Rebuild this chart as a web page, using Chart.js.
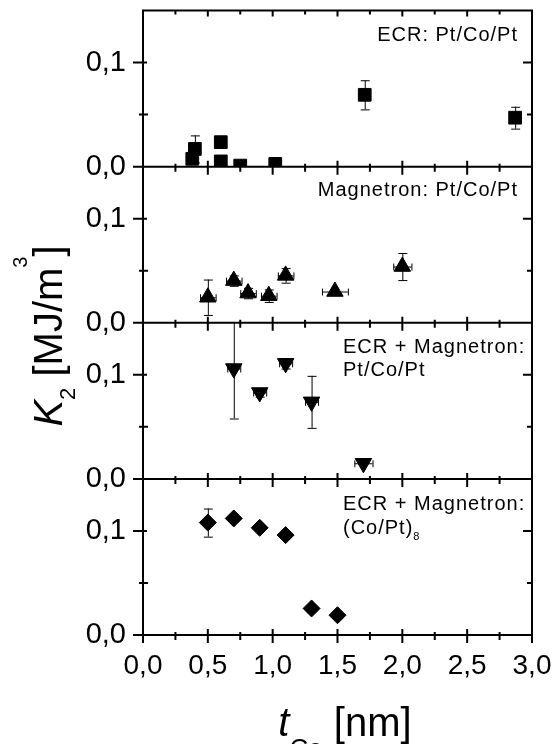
<!DOCTYPE html>
<html>
<head>
<meta charset="utf-8">
<script src="https://cdn.jsdelivr.net/npm/chart.js@4.4.0/dist/chart.umd.min.js"></script>
<style>
    html, body { margin: 0; padding: 0; background: #fff; }
</style>
</head>
<body>
<canvas id="k2Chart" width="554" height="744"></canvas>
<script>
// t_Co [nm] and K2 [MJ/m^3] (top to bottom)
const ecrX = [0.38, 0.40, 0.60, 0.60, 0.75, 1.02, 1.71, 2.87];
const ecrY = [0.0075, 0.017, 0.0235, 0.005, 0.001, 0.0026, 0.069, 0.047];
const ecrYErr = [0, 0.013, 0, 0, 0, 0, 0.014, 0.0105];

const magX = [0.50, 0.70, 0.81, 0.97, 1.10, 1.48, 2.00];
const magY = [0.0245, 0.0405, 0.0285, 0.026, 0.0455, 0.030, 0.054];
const magYErr = [0.017, 0.005, 0.005, 0.006, 0.007, 0, 0.013];
const magXErr = [0.06, 0.06, 0.06, 0.06, 0.06, 0.10, 0.07];

const ecmX = [0.70, 0.90, 1.10, 1.30, 1.70];
const ecmY = [0.106, 0.083, 0.111, 0.074, 0.015];
const ecmYErr = [0.048, 0.004, 0.005, 0.025, 0];
const ecmXErr = [0.05, 0.05, 0.05, 0.05, 0.07];

const multX = [0.50, 0.70, 0.90, 1.10, 1.30, 1.50];
const multY = [0.108, 0.112, 0.103, 0.096, 0.0255, 0.019];
const multYErr = [0.0135, 0, 0, 0, 0, 0];

const xTickValues = [0, 0.5, 1.0, 1.5, 2.0, 2.5, 3.0];
const yTickValues = [0, 0.1];
const yTickLabels = ['0,0', '0,1'];

const panelIds = ['y1', 'y2', 'y3', 'y4'];
const FONT = '"Liberation Sans", Arial, sans-serif';

function toPoints(xs, ys) {
    return xs.map((x, i) => ({ x: x, y: ys[i] }));
}

function panelScale(weight) {
    return {
        type: 'linear',
        position: 'left',
        stack: 'panels',
        stackWeight: 1,
        weight: weight,
        min: 0,
        max: 0.15,
        grid: { display: false, drawTicks: false },
        border: { display: false },
        ticks: {
            stepSize: 0.05,
            padding: 17,
            color: '#000',
            font: { family: FONT, size: 29 },
            callback: v => {
                const k = yTickValues.findIndex(t => Math.abs(t - v) < 1e-9);
                return k >= 0 ? yTickLabels[k] : null;
            }
        },
        afterFit: s => {
            s.width = 143;
            s.paddingTop = 0;
            s.paddingBottom = 0;
        }
    };
}

// frame, ticks of every panel
const framePlugin = {
    id: 'frame',
    beforeDatasetsDraw(chart) {
        const ctx = chart.ctx;
        const xs = chart.scales.x;
        ctx.save();
        ctx.strokeStyle = '#000';
        ctx.lineWidth = 2;
        ctx.beginPath();
        panelIds.forEach((id, p) => {
            const ys = chart.scales[id];
            ctx.rect(xs.left, ys.top, xs.right - xs.left, ys.bottom - ys.top);
            // x ticks at panel bottom
            for (let v = 0; v <= 3.0001; v += 0.25) {
                const px = xs.getPixelForValue(v);
                const major = Math.abs(v / 0.5 - Math.round(v / 0.5)) < 1e-6;
                ctx.moveTo(px, ys.bottom - (major ? 6 : 3));
                ctx.lineTo(px, ys.bottom + (major ? 8 : 5));
                if (p === 0) {
                    ctx.moveTo(px, ys.top);
                    ctx.lineTo(px, ys.top + (major ? 6 : 4));
                }
            }
            // y ticks both sides
            [0, 0.05, 0.1].forEach(v => {
                const py = ys.getPixelForValue(v);
                const major = v !== 0.05;
                ctx.moveTo(xs.left - (major ? 10 : 4), py);
                ctx.lineTo(xs.left + (major ? 4 : 5), py);
                ctx.moveTo(xs.right - (major ? 9 : 5), py);
                ctx.lineTo(xs.right, py);
            });
        });
        ctx.stroke();
        ctx.restore();
    }
};

const errorBarPlugin = {
    id: 'errorBars',
    beforeDatasetsDraw(chart) {
        const ctx = chart.ctx;
        const xs = chart.scales.x;
        chart.data.datasets.forEach(ds => {
            const ys = chart.scales[ds.yAxisID];
            ctx.save();
            ctx.beginPath();
            ctx.rect(xs.left, ys.top, xs.right - xs.left, ys.bottom - ys.top);
            ctx.clip();
            ctx.strokeStyle = '#000';
            ctx.lineWidth = 1;
            ctx.beginPath();
            ds.data.forEach((pt, i) => {
                const px = xs.getPixelForValue(pt.x);
                const py = ys.getPixelForValue(pt.y);
                const ye = ds.yErr ? ds.yErr[i] : 0;
                const xe = ds.xErr ? ds.xErr[i] : 0;
                if (ye) {
                    const t = ys.getPixelForValue(pt.y + ye);
                    const b = ys.getPixelForValue(pt.y - ye);
                    ctx.moveTo(px + 0.5, t); ctx.lineTo(px + 0.5, b);
                    ctx.moveTo(px - 4, t + 0.5); ctx.lineTo(px + 5, t + 0.5);
                    ctx.moveTo(px - 4, b + 0.5); ctx.lineTo(px + 5, b + 0.5);
                }
                if (xe) {
                    const l = xs.getPixelForValue(pt.x - xe);
                    const r = xs.getPixelForValue(pt.x + xe);
                    ctx.moveTo(l, py + 0.5); ctx.lineTo(r, py + 0.5);
                    ctx.moveTo(l + 0.5, py - 3); ctx.lineTo(l + 0.5, py + 4);
                    ctx.moveTo(r + 0.5, py - 3); ctx.lineTo(r + 0.5, py + 4);
                }
            });
            ctx.stroke();
            ctx.restore();
        });
    }
};

// draw a run of text pieces (italic / sub / superscript) from x on baseline y
function drawRich(ctx, parts, x, y, align) {
    const fontOf = p => (p.italic ? 'italic ' : '') + p.size + 'px ' + FONT;
    let total = 0;
    parts.forEach(p => { ctx.font = fontOf(p); total += ctx.measureText(p.t).width; });
    let cx = align === 'center' ? x - total / 2 : align === 'right' ? x - total : x;
    ctx.textAlign = 'left';
    ctx.textBaseline = 'alphabetic';
    parts.forEach(p => {
        ctx.font = fontOf(p);
        ctx.fillText(p.t, cx, y + (p.dy || 0));
        cx += ctx.measureText(p.t).width;
    });
}

const textPlugin = {
    id: 'texts',
    afterDraw(chart) {
        const ctx = chart.ctx;
        const xs = chart.scales.x;
        const s = chart.scales;
        ctx.save();
        ctx.fillStyle = '#000';

        // panel captions
        ctx.letterSpacing = '1px';
        drawRich(ctx, [{ t: 'ECR: Pt/Co/Pt', size: 20 }], xs.right - 14, s.y1.top + 30, 'right');
        drawRich(ctx, [{ t: 'Magnetron: Pt/Co/Pt', size: 20 }], xs.right - 14, s.y2.top + 29.5, 'right');
        drawRich(ctx, [{ t: 'ECR + Magnetron:', size: 20 }], 343, s.y3.top + 30, 'left');
        drawRich(ctx, [{ t: 'Pt/Co/Pt', size: 20 }], 343, s.y3.top + 53, 'left');
        drawRich(ctx, [{ t: 'ECR + Magnetron:', size: 20 }], 343, s.y4.top + 31.5, 'left');
        drawRich(ctx, [{ t: '(Co/Pt)', size: 20 }, { t: '8', size: 11, dy: 6 }], 343, s.y4.top + 55, 'left');
        ctx.letterSpacing = '0px';

        // x title
        drawRich(ctx, [
            { t: 't', size: 40, italic: true },
            { t: 'Co', size: 26, dy: 21 },
            { t: ' [nm]', size: 40 }
        ], 345, 736, 'center');

        // y title
        ctx.translate(62, 336);
        ctx.rotate(-Math.PI / 2);
        drawRich(ctx, [
            { t: 'K', size: 40, italic: true },
            { t: '2', size: 22, dy: 13 },
            { t: ' [MJ/m', size: 40 },
            { t: '3', size: 20, dy: -35 },
            { t: ']', size: 40 }
        ], 0, 0, 'center');
        ctx.restore();
    }
};

const markerBase = {
    showLine: false,
    backgroundColor: '#000',
    borderColor: '#000',
    borderWidth: 1
};

new Chart(document.getElementById('k2Chart'), {
    type: 'scatter',
    data: {
        datasets: [
            Object.assign({}, markerBase, {
                label: 'ECR: Pt/Co/Pt', yAxisID: 'y1',
                data: toPoints(ecrX, ecrY), yErr: ecrYErr,
                pointStyle: 'rect', pointRadius: 9
            }),
            Object.assign({}, markerBase, {
                label: 'Magnetron: Pt/Co/Pt', yAxisID: 'y2',
                data: toPoints(magX, magY), yErr: magYErr, xErr: magXErr,
                pointStyle: 'triangle', pointRadius: 9.5
            }),
            Object.assign({}, markerBase, {
                label: 'ECR + Magnetron: Pt/Co/Pt', yAxisID: 'y3',
                data: toPoints(ecmX, ecmY), yErr: ecmYErr, xErr: ecmXErr,
                pointStyle: 'triangle', pointRotation: 180, pointRadius: 9.5
            }),
            Object.assign({}, markerBase, {
                label: 'ECR + Magnetron: (Co/Pt)8', yAxisID: 'y4',
                data: toPoints(multX, multY), yErr: multYErr,
                pointStyle: 'rectRot', pointRadius: 8.5
            })
        ]
    },
    options: {
        responsive: false,
        animation: false,
        devicePixelRatio: 1,
        layout: { padding: { top: 9, right: 22, left: 0, bottom: 0 } },
        plugins: {
            legend: { display: false },
            tooltip: { enabled: false }
        },
        scales: {
            x: {
                type: 'linear',
                position: 'bottom',
                min: 0,
                max: 3,
                grid: { display: false },
                border: { display: false },
                afterBuildTicks: s => { s.ticks = xTickValues.map(v => ({ value: v })); },
                ticks: {
                    padding: 6,
                    color: '#000',
                    autoSkip: false,
                    maxRotation: 0,
                    font: { family: FONT, size: 28 },
                    callback: v => v.toFixed(1).replace('.', ',')
                },
                afterFit: s => {
                    s.height = 109;
                    s.paddingLeft = 0;
                    s.paddingRight = 0;
                }
            },
            y1: panelScale(4),
            y2: panelScale(3),
            y3: panelScale(2),
            y4: panelScale(1)
        }
    },
    plugins: [framePlugin, errorBarPlugin, textPlugin]
});
</script>
</body>
</html>
